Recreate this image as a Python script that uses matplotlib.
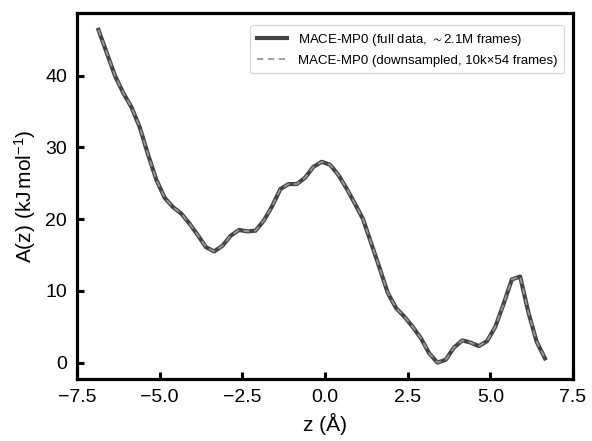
import matplotlib
matplotlib.use("Agg")
import matplotlib.pyplot as plt
import numpy as np

plt.rcParams['font.family'] = ['Liberation Sans', 'DejaVu Sans']
plt.rcParams['mathtext.fontset'] = 'custom'
plt.rcParams['mathtext.rm'] = 'Liberation Sans'
plt.rcParams['mathtext.it'] = 'Liberation Sans:italic'
plt.rcParams['mathtext.default'] = 'regular'

z = [-6.85, -6.60, -6.35, -6.10, -5.85, -5.60, -5.35, -5.10, -4.85, -4.60,
     -4.35, -4.10, -3.85, -3.60, -3.35, -3.10, -2.85, -2.60, -2.35, -2.10,
     -1.85, -1.60, -1.35, -1.10, -0.85, -0.60, -0.35, -0.10, 0.15, 0.40,
     0.65, 0.90, 1.15, 1.40, 1.65, 1.90, 2.15, 2.40, 2.65, 2.90,
     3.15, 3.40, 3.65, 3.90, 4.15, 4.40, 4.65, 4.90, 5.15, 5.40,
     5.65, 5.90, 6.15, 6.40, 6.65]
A_full = [46.4, 43.2, 40.0, 37.6, 35.6, 32.8, 29.0, 25.5, 23.0, 21.7,
          20.8, 19.4, 17.8, 16.1, 15.5, 16.3, 17.7, 18.5, 18.3, 18.4,
          19.8, 21.8, 24.2, 24.9, 24.9, 25.8, 27.3, 28.0, 27.6, 26.2,
          24.3, 22.2, 20.0, 16.6, 13.2, 9.7, 7.6, 6.4, 5.0, 3.4,
          1.3, 0.0, 0.4, 2.1, 3.1, 2.8, 2.3, 3.0, 5.0, 8.2,
          11.6, 12.0, 7.0, 2.9, 0.6]
A_down = list(A_full)

label_full = r'MACE-MP0 (full data, $\sim$2.1M frames)'
label_down = 'MACE-MP0 (downsampled, 10k×54 frames)'

fig = plt.figure(figsize=(5.92, 4.41), dpi=100)
ax = fig.add_axes([0.130, 0.140, 0.838, 0.830])

ax.plot(z, A_full, color='#444444', lw=3.0, label=label_full, zorder=2)
ax.plot(z, A_down, color='#999999', lw=1.3, ls=(0, (3.5, 2.5)), label=label_down, zorder=3)

ax.set_xlim(-7.5, 7.5)
ax.set_xticks([-7.5, -5.0, -2.5, 0.0, 2.5, 5.0, 7.5])
ax.set_yticks([0, 10, 20, 30, 40])
ax.set_xlabel('z (Å)', fontsize=15, labelpad=5)
ax.set_ylabel(r'A(z) (kJ$\,$mol$^{-1}$)', fontsize=15, labelpad=5)

for s in ax.spines.values():
    s.set_linewidth(2.3)
ax.tick_params(direction='in', length=5, width=2.2, labelsize=14, pad=7)

leg = ax.legend(loc='upper right', fontsize=9.5, frameon=True, handlelength=2.3,
                borderpad=0.5, labelspacing=0.5, fancybox=True,
                bbox_to_anchor=(0.995, 0.985))
leg.get_frame().set_edgecolor('#cccccc')
leg.get_frame().set_linewidth(0.8)

fig.savefig('out.png', dpi=100)
